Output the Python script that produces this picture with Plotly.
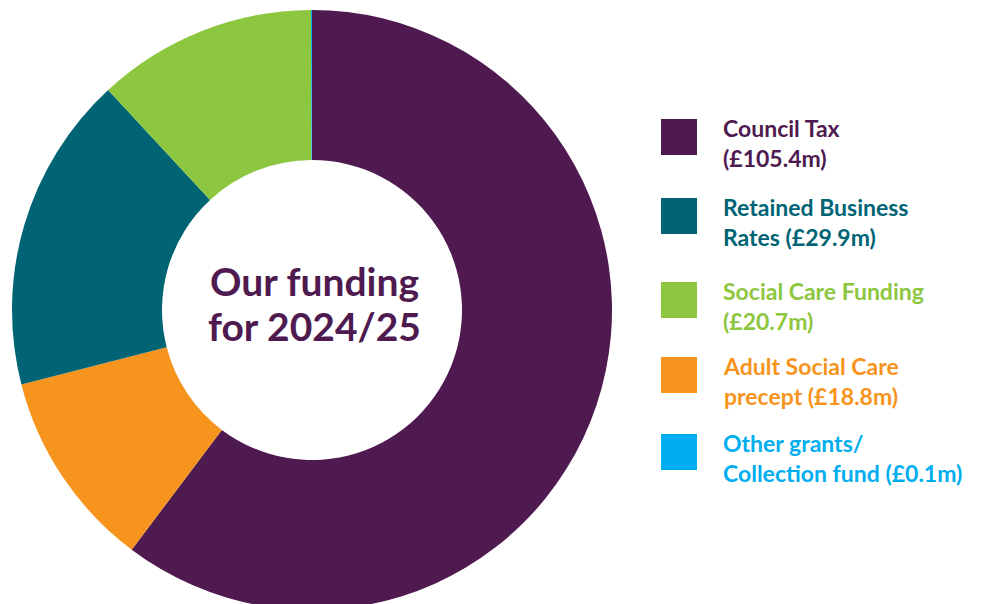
import plotly.graph_objects as go

categories = ["Council Tax", "Adult Social Care precept", "Retained Business Rates",
              "Social Care Funding", "Other grants/ Collection fund"]
values = [105.4, 18.8, 29.9, 20.7, 0.1]
colors = ["#4E1A4F", "#F7941D", "#006475", "#8DC63F", "#00AEEF"]

legend_labels = ["Council Tax<br>(£105.4m)", "Retained Business<br>Rates (£29.9m)",
                 "Social Care Funding<br>(£20.7m)", "Adult Social Care<br>precept (£18.8m)",
                 "Other grants/<br>Collection fund (£0.1m)"]
legend_colors = ["#4E1A4F", "#006475", "#8DC63F", "#F7941D", "#00AEEF"]
center_lines = ["Our funding", "for 2024/25"]

W, H = 981, 610
MT, MB = 10, 0
PH = H - MT - MB

def px_x(x):
    return x / W

def px_y(y):
    return (H - MB - y) / PH

fig = go.Figure(go.Pie(
    labels=categories, values=values, hole=0.5, sort=False, direction="clockwise",
    rotation=0, textinfo="none", marker=dict(colors=colors, line=dict(width=0)),
    domain=dict(x=[0, 624 / W], y=[0, 1]), showlegend=False,
))

FONT = "Lato"
annotations = []
for line, cy in zip(center_lines, [281, 326]):
    annotations.append(dict(
        text=line, x=px_x(314), y=px_y(cy), xref="paper", yref="paper",
        xanchor="center", yanchor="middle", showarrow=False,
        font=dict(family=FONT, size=39, color="#4E1A4F", weight="bold"),
    ))
shapes = []
square_centers = [137, 216, 300, 375, 452]
for lab, col, cy in zip(legend_labels, legend_colors, square_centers):
    shapes.append(dict(type="rect", xref="paper", yref="paper",
                       x0=px_x(661), x1=px_x(697), y0=px_y(cy + 18), y1=px_y(cy - 18),
                       fillcolor=col, line=dict(width=0)))
    annotations.append(dict(
        text=lab, x=px_x(721), y=px_y(cy + 6), xref="paper", yref="paper",
        xanchor="left", yanchor="middle", align="left", showarrow=False,
        font=dict(family=FONT, size=23, color=col, weight="bold"),
    ))

fig.update_layout(
    width=W, height=H, margin=dict(l=0, r=0, t=MT, b=MB),
    paper_bgcolor="white", plot_bgcolor="white",
    annotations=annotations, shapes=shapes,
)
fig.write_html("out.html", config={"displayModeBar": False},
               post_script="document.body.style.margin='0';document.body.style.overflow='hidden';")
